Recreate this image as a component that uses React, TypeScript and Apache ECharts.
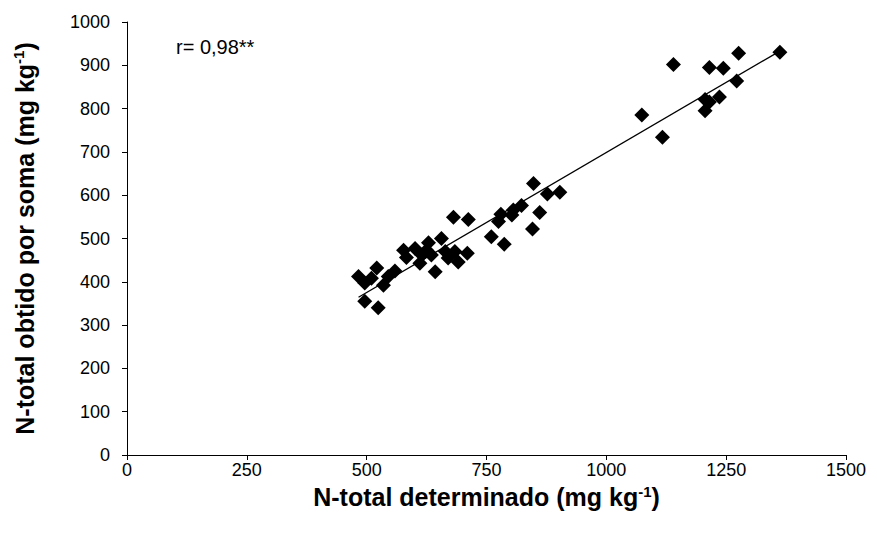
import React, { useEffect, useRef } from "react";
import * as echarts from "echarts";

const nDeterminado: number[] = [
  483, 496, 496, 510, 521, 524, 535, 545, 559, 577, 583, 601, 611, 615, 625, 629, 635, 643, 656, 664, 670, 681, 684, 691, 710, 712,
  760, 775, 780, 787, 803, 806, 823, 846, 848, 861, 877, 903,
  1074, 1117, 1140, 1206, 1206, 1215, 1215, 1236, 1244, 1272, 1276, 1362,
];
const nSoma: number[] = [
  412, 397, 355, 408, 432, 340, 392, 412, 425, 473, 456, 477, 443, 462, 473, 490, 462, 423, 500, 470, 455, 549, 470, 446, 466, 544,
  504, 539, 556, 487, 554, 566, 576, 522, 627, 560, 603, 607,
  785, 734, 902, 795, 821, 815, 895, 827, 893, 864, 928, 930,
];
const xTicks = { min: 0, max: 1500, interval: 250 };
const yTicks = { min: 0, max: 1000, interval: 100 };
const rLabel = "r= 0,98**";

function regression(xs: number[], ys: number[]) {
  const n = xs.length;
  const mx = xs.reduce((a, b) => a + b, 0) / n;
  const my = ys.reduce((a, b) => a + b, 0) / n;
  let sxy = 0, sxx = 0;
  for (let i = 0; i < n; i++) {
    sxy += (xs[i] - mx) * (ys[i] - my);
    sxx += (xs[i] - mx) * (xs[i] - mx);
  }
  const b = sxy / sxx;
  return { a: my - b * mx, b };
}

export default function App() {
  const ref = useRef<HTMLDivElement>(null);
  useEffect(() => {
    if (!ref.current) return;
    const chart = echarts.init(ref.current, undefined, { renderer: "svg" });
    const pts = nDeterminado.map((x, i) => [x, nSoma[i]]);
    const { a, b } = regression(nDeterminado, nSoma);
    const x0 = Math.min(...nDeterminado);
    const x1 = Math.max(...nDeterminado);
    const font = "'Liberation Sans', Arial, sans-serif";
    const titleRich = {
      a: { fontSize: 25, fontWeight: "bold", color: "#000", fontFamily: font },
      s: { fontSize: 15, fontWeight: "bold", color: "#000", fontFamily: font, padding: [0, 0, 12, 0] },
    };
    chart.setOption({
      animation: false,
      backgroundColor: "#fff",
      textStyle: { fontFamily: font },
      grid: { left: 127, right: 31, top: 22, bottom: 83, containLabel: false },
      xAxis: {
        type: "value",
        ...xTicks,
        name: "{a|N-total determinado (mg kg}{s|-1}{a|)}",
        nameLocation: "middle",
        nameGap: 28,
        nameTextStyle: { rich: titleRich },
        splitLine: { show: false },
        axisLine: { show: true, onZero: false, lineStyle: { color: "#000", width: 1 } },
        axisTick: { show: true, length: 5, lineStyle: { color: "#000" } },
        axisLabel: { color: "#000", fontSize: 18, margin: 6, fontFamily: font, formatter: (v: number) => String(v) },
      },
      yAxis: {
        type: "value",
        ...yTicks,
        name: "{a|N-total obtido por soma (mg kg}{s|-1}{a|)}",
        nameLocation: "middle",
        nameRotate: 90,
        nameGap: 89,
        nameTextStyle: { rich: titleRich },
        splitLine: { show: false },
        axisLine: { show: true, onZero: false, lineStyle: { color: "#000", width: 1 } },
        axisTick: { show: true, length: 5, lineStyle: { color: "#000" } },
        axisLabel: { color: "#000", fontSize: 18, margin: 17, fontFamily: font, formatter: (v: number) => String(v) },
      },
      graphic: [
        {
          type: "text",
          left: 176,
          top: 37,
          style: { text: rLabel, fontSize: 20, fill: "#000", fontFamily: font },
        },
      ],
      series: [
        {
          type: "line",
          data: [
            [x0, a + b * x0],
            [x1, a + b * x1],
          ],
          symbol: "none",
          lineStyle: { color: "#000", width: 1.3 },
          z: 1,
        },
        {
          type: "scatter",
          data: pts,
          symbol: "diamond",
          symbolSize: [15, 15],
          itemStyle: { color: "#000", opacity: 1 },
          z: 2,
        },
      ],
    });
    return () => chart.dispose();
  }, []);
  return <div ref={ref} style={{ width: 877, height: 538, margin: -8 }} />;
}
